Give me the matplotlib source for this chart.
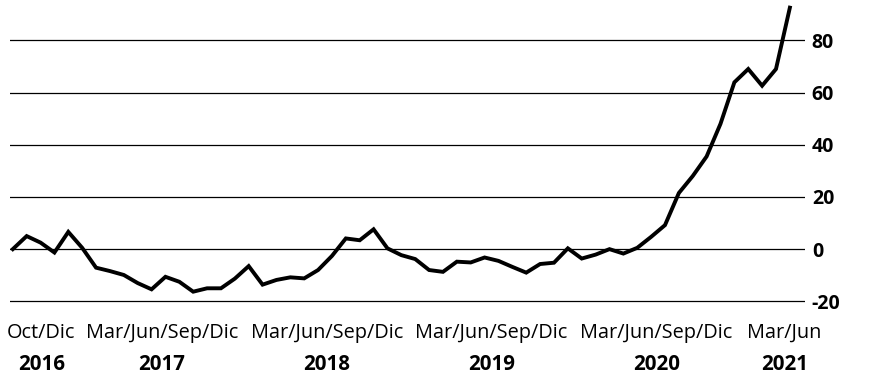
import matplotlib
matplotlib.use("Agg")
import matplotlib.pyplot as plt
import matplotlib.transforms as mtransforms

plt.rcParams['font.family'] = ['Open Sans', 'DejaVu Sans']

# monthly index values, Oct 2016 .. Jun 2021
values = [0, 5, 2.5, -1.3, 6.6, 0.5, -7.1, -8.4, -9.9, -13, -15.4, -10.6,
          -12.5, -16.3, -15, -15, -11.3, -6.5, -13.6, -11.8, -10.8, -11.2, -8,
          -2.6, 4.1, 3.4, 7.6, 0.3, -2.3, -3.8, -8, -8.7, -4.8, -5.1, -3.2,
          -4.5, -6.8, -9, -5.7, -5.2, 0.3, -3.6, -2.1, 0, -1.7, 0.5, 4.7, 9.2,
          21.5, 28, 35.5, 48, 63.9, 69, 62.6, 69, 92.5]
months = list(range(len(values)))

period_labels = ['Oct/Dic', 'Mar/Jun/Sep/Dic', 'Mar/Jun/Sep/Dic',
                 'Mar/Jun/Sep/Dic', 'Mar/Jun/Sep/Dic', 'Mar/Jun']
year_labels = ['2016', '2017', '2018', '2019', '2020', '2021']
label_pos = [2.05, 10.75, 22.65, 34.5, 46.4, 55.6]
yticks = [-20, 0, 20, 40, 60, 80]

fig = plt.figure(figsize=(8.72, 3.79), dpi=100)
ax = fig.add_axes([0.0115, 0.198, 0.9115, 0.799])

for t in yticks:
    ax.axhline(t, color='black', linewidth=0.9, zorder=1)

ax.plot(months, values, color='black', linewidth=2.8,
        solid_joinstyle='miter', zorder=3)

ax.set_xlim(-0.2, 57.08)
ax.set_ylim(-21, 95)
for s in ax.spines.values():
    s.set_visible(False)
ax.set_xticks([])
ax.yaxis.tick_right()
ax.set_yticks(yticks)
ax.set_yticklabels([str(t) for t in yticks], fontsize=14, fontweight='bold')
ax.tick_params(axis='y', length=0, pad=5)

trans = mtransforms.blended_transform_factory(ax.transData, fig.transFigure)
for x, p, y in zip(label_pos, period_labels, year_labels):
    ax.text(x, 0.121, p, transform=trans, ha='center', va='center',
            fontsize=14.3, clip_on=False)
    ax.text(x, 0.037, y, transform=trans, ha='center', va='center',
            fontsize=14.8, fontweight='bold', clip_on=False)

fig.savefig('out.png', dpi=100)
